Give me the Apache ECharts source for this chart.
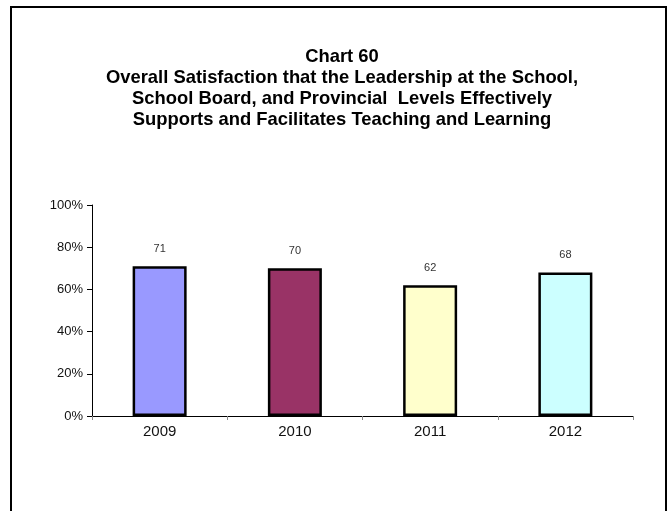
<!DOCTYPE html>
<html>
<head>
<meta charset="utf-8">
<script src="https://cdn.jsdelivr.net/npm/echarts@6/dist/echarts.min.js"></script>
<style>html,body{margin:0;padding:0;background:#fff;}#c{width:670px;height:511px;}</style>
</head>
<body>
<div id="c"></div>
<script>
const titleLines = ["Chart 60", "Overall Satisfaction that the Leadership at the School,", "School Board, and Provincial  Levels Effectively", "Supports and Facilitates Teaching and Learning"];
const categories = ["2009", "2010", "2011", "2012"];
const values = [71, 70, 62, 68];
const barColors = ["#9999FF", "#993366", "#FFFFCC", "#CCFFFF"];
const yTicks = [0, 20, 40, 60, 80, 100];

const chart = echarts.init(document.getElementById('c'));
chart.setOption({
  animation: false,
  backgroundColor: '#fff',
  title: {
    text: titleLines.join('\n'),
    left: 337, top: 42, textAlign: 'center',
    textStyle: {fontFamily: 'Liberation Sans', fontWeight: 'bold', fontSize: 18.4, lineHeight: 20.8, color: '#000'}
  },
  graphic: [{
    type: 'rect', shape: {x: 11, y: 7, width: 655, height: 530},
    style: {fill: 'none', stroke: '#000', lineWidth: 2}, silent: true
  }],
  grid: {left: 92, right: 37, top: 205, bottom: 95},
  xAxis: {
    type: 'category', data: categories,
    axisLine: {lineStyle: {color: '#000', width: 1}},
    axisTick: {show: true, alignWithLabel: false, length: 4, lineStyle: {color: '#888'}},
    axisLabel: {fontFamily: 'Liberation Sans', fontSize: 15, color: '#111', margin: 8}
  },
  yAxis: {
    type: 'value', min: yTicks[0], max: yTicks[yTicks.length - 1], interval: 20,
    axisLine: {show: true, lineStyle: {color: '#000', width: 1}},
    axisTick: {show: true, inside: false, length: 5, lineStyle: {color: '#000'}},
    splitLine: {show: false},
    axisLabel: {formatter: '{value}%', fontFamily: 'Liberation Sans', fontSize: 13, color: '#111', margin: 9}
  },
  series: [{
    type: 'bar',
    barWidth: 54,
    data: values.map((v, i) => ({value: v, itemStyle: {color: barColors[i]}})),
    itemStyle: {borderColor: '#000', borderWidth: 2.5},
    label: {show: true, position: 'top', distance: 12, fontFamily: 'Liberation Sans', fontSize: 11, color: '#333'}
  }]
});
</script>
</body>
</html>
